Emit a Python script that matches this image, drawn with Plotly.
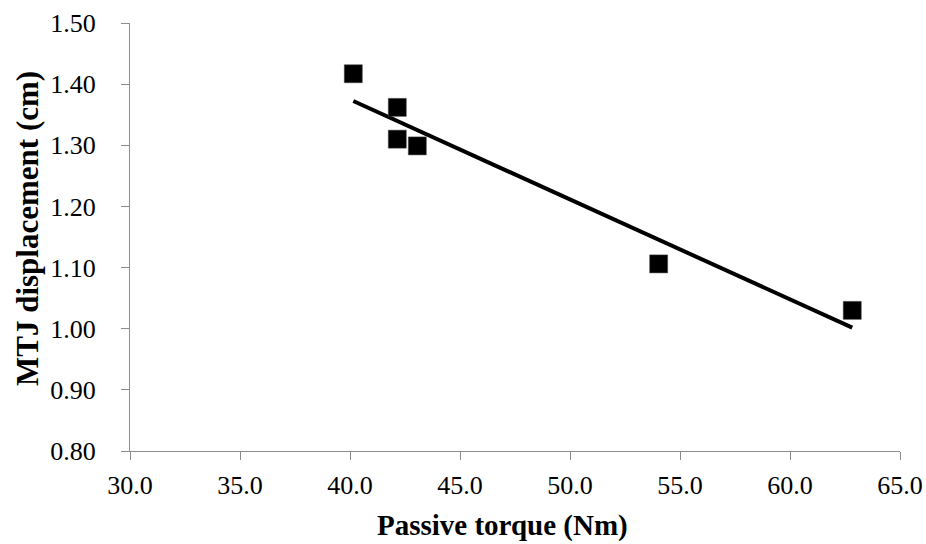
import numpy as np
import plotly.graph_objects as go

# Data
passive_torque = [40.15, 42.15, 42.15, 43.06, 54.03, 62.83]
mtj_displacement = [1.417, 1.362, 1.310, 1.299, 1.106, 1.030]

x_ticks = [30.0, 35.0, 40.0, 45.0, 50.0, 55.0, 60.0, 65.0]
y_ticks = [0.80, 0.90, 1.00, 1.10, 1.20, 1.30, 1.40, 1.50]

x_title = "Passive torque (Nm)"
y_title = "MTJ displacement (cm)"

# Linear trend line (least squares)
slope, intercept = np.polyfit(passive_torque, mtj_displacement, 1)
trend_x = [min(passive_torque), max(passive_torque)]
trend_y = [slope * v + intercept for v in trend_x]

FONT = "Liberation Serif"
AXIS_COLOR = "#8c8c8c"

fig = go.Figure()
fig.add_trace(go.Scatter(
    x=trend_x, y=trend_y, mode="lines",
    line=dict(color="black", width=4),
    showlegend=False, hoverinfo="skip",
))
fig.add_trace(go.Scatter(
    x=passive_torque, y=mtj_displacement, mode="markers",
    marker=dict(symbol="square", size=18, color="black",
                line=dict(color="#444444", width=0.5)),
    showlegend=False,
))

fig.update_layout(
    width=926, height=544,
    margin=dict(l=130, r=26, t=23, b=93, autoexpand=False),
    paper_bgcolor="white", plot_bgcolor="white",
    font=dict(family=FONT, color="black"),
    xaxis=dict(
        range=[30, 65], tickvals=x_ticks,
        ticktext=[f"{v:.1f}" for v in x_ticks],
        showgrid=False, zeroline=False, automargin=False,
        showline=True, linecolor=AXIS_COLOR, linewidth=1,
        ticks="outside", ticklen=8, tickcolor=AXIS_COLOR,
        tickfont=dict(family=FONT, size=26, color="black"),
        ticklabelstandoff=3,
    ),
    yaxis=dict(
        range=[0.8, 1.5], tickvals=y_ticks,
        ticktext=[f"{v:.2f}" for v in y_ticks],
        showgrid=False, zeroline=False, automargin=False,
        showline=True, linecolor=AXIS_COLOR, linewidth=1,
        ticks="outside", ticklen=8, tickcolor=AXIS_COLOR,
        tickfont=dict(family=FONT, size=26, color="black"),
        ticklabelstandoff=20,
    ),
    annotations=[
        dict(text=f"<b>{x_title}</b>", xref="paper", yref="paper",
             x=0.4844, y=-0.175, xanchor="center", yanchor="middle",
             showarrow=False,
             font=dict(family=FONT, size=29, color="black")),
        dict(text=f"<b>{y_title}</b>", xref="paper", yref="paper",
             x=-0.1338, y=0.521, xanchor="center", yanchor="middle",
             textangle=-90, showarrow=False,
             font=dict(family=FONT, size=31, color="black")),
    ],
)

fig.write_html("out.html",
               config={"displayModeBar": False},
               post_script="document.body.style.margin='0';"
                           "document.body.style.overflow='hidden';")
